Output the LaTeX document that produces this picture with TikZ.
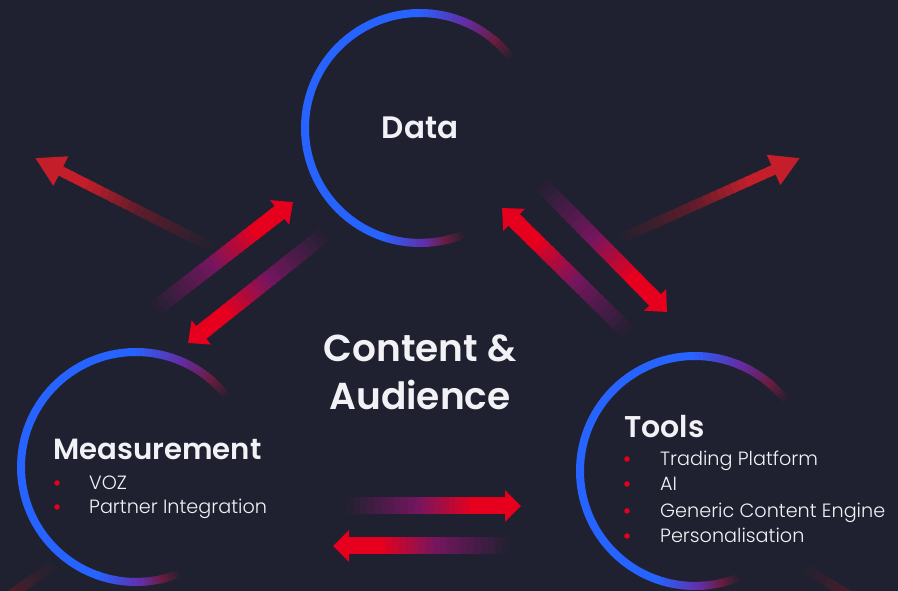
\documentclass[tikz,border=0pt]{standalone}
\usepackage{fontspec}
\setmainfont{Poppins}
\newfontfamily\headfont{Poppins SemiBold}
\newfontfamily\listfont{Poppins Light}
\usetikzlibrary{calc,arrows.meta}
\definecolor{bgnavy}{RGB}{31,33,48}
\definecolor{cblue}{RGB}{38,99,255}
\definecolor{ringred}{RGB}{105,28,62}
\definecolor{ringviolet}{RGB}{100,45,165}
\definecolor{inmid}{RGB}{115,22,95}
\definecolor{inend}{RGB}{230,0,30}
\definecolor{outmid}{RGB}{95,28,42}
\definecolor{outend}{RGB}{196,30,42}
\definecolor{txtwhite}{RGB}{242,242,246}

% shaded arrow: from, to, shaft width, head length, head width, colour prefix
\newcommand{\fadearrow}[6]{%
  \foreach \i in {0,...,23}{%
    \pgfmathtruncatemacro\pa{min(100,\i*100/11)}%
    \pgfmathtruncatemacro\pb{max(0,min(100,(\i-11)*100/8))}%
    \pgfmathsetmacro\fa{\i*0.9/24}%
    \pgfmathsetmacro\fb{(\i+1.6)*0.9/24}%
    \colorlet{segmix}{#6mid!\pa!bgnavy}%
    \colorlet{segcol}{#6end!\pb!segmix}%
    \draw[line width=#3,segcol] ($(#1)!\fa!(#2)$) -- ($(#1)!\fb!(#2)$);
  }
  \draw[line width=#3,#6end,-{Triangle[length=#4,width=#5]}] ($(#1)!0.85!(#2)$) -- (#2);
}

\begin{document}
\begin{tikzpicture}[x=1pt,y=1pt,
  ring/.style={line width=8pt},
  title/.style={text=txtwhite,font=\headfont\fontsize{30}{36}\selectfont,inner sep=0pt},
  item/.style={text=txtwhite,font=\listfont\fontsize{19.2}{24}\selectfont,inner sep=0pt,anchor=base west},
  dot/.style={circle,fill=inend,inner sep=0pt,minimum size=5.5pt}]

% Background
\clip (0,0) rectangle (898,591);
\fill[bgnavy] (0,0) rectangle (898,591);

% Circle centres
\coordinate (data) at (420,463);
\coordinate (meas) at (136,124);
\coordinate (tools) at (695,120);

% Rings
\foreach \c in {data,meas,tools}{
  \foreach \a [evaluate=\a as \p using int((\a-36)*100/12)] in {36,38,...,48}
    \draw[ring,ringred!\p!bgnavy] (\c) ++(\a:115) arc[start angle=\a,delta angle=2.5,radius=115];
  \foreach \a [evaluate=\a as \p using int((\a-48)*100/18)] in {48,50,...,66}
    \draw[ring,ringviolet!\p!ringred] (\c) ++(\a:115) arc[start angle=\a,delta angle=2.5,radius=115];
  \foreach \a [evaluate=\a as \p using int((\a-66)*100/24)] in {66,68,...,90}
    \draw[ring,cblue!\p!ringviolet] (\c) ++(\a:115) arc[start angle=\a,delta angle=2.5,radius=115];
  \draw[ring,cblue] (\c) ++(91:115) arc[start angle=91,end angle=251,radius=115];
  \foreach \a [evaluate=\a as \p using int((\a-250)*100/22)] in {250,252,...,272}
    \draw[ring,ringviolet!\p!cblue] (\c) ++(\a:115) arc[start angle=\a,delta angle=2.5,radius=115];
  \foreach \a [evaluate=\a as \p using int((\a-272)*10)] in {272,274,...,282}
    \draw[ring,ringred!\p!ringviolet] (\c) ++(\a:115) arc[start angle=\a,delta angle=2.5,radius=115];
  \foreach \a [evaluate=\a as \p using int((\a-282)*100/10)] in {282,284,...,292}
    \draw[ring,bgnavy!\p!ringred] (\c) ++(\a:115) arc[start angle=\a,delta angle=2.5,radius=115];
}

% Outward arrows
\coordinate (o1s) at (217,341); \coordinate (o1e) at (35,433);
\coordinate (o2s) at (613,349); \coordinate (o2e) at (800,433);
\coordinate (o3s) at (58,29);   \coordinate (o3e) at (-98,-79);
\coordinate (o4s) at (800,26);  \coordinate (o4e) at (975,-84);
\fadearrow{o1s}{o1e}{10pt}{29pt}{31pt}{out}
\fadearrow{o2s}{o2e}{10pt}{29pt}{31pt}{out}
\fadearrow{o3s}{o3e}{10pt}{29pt}{31pt}{out}
\fadearrow{o4s}{o4e}{10pt}{29pt}{31pt}{out}

% Arrows between the circles
\coordinate (a1s) at (150,278); \coordinate (a1e) at (293,389);
\coordinate (a2s) at (330,361); \coordinate (a2e) at (188,248);
\coordinate (a3s) at (633,254); \coordinate (a3e) at (502,383);
\coordinate (a4s) at (537,411); \coordinate (a4e) at (667,279);
\coordinate (a5s) at (340,85);  \coordinate (a5e) at (521,85);
\coordinate (a6s) at (515,45);  \coordinate (a6e) at (333,45);
\fadearrow{a1s}{a1e}{16pt}{17pt}{30pt}{in}
\fadearrow{a2s}{a2e}{16pt}{17pt}{30pt}{in}
\fadearrow{a3s}{a3e}{16pt}{17pt}{30pt}{in}
\fadearrow{a4s}{a4e}{16pt}{17pt}{30pt}{in}
\fadearrow{a5s}{a5e}{17pt}{16pt}{31pt}{in}
\fadearrow{a6s}{a6e}{17pt}{16pt}{31pt}{in}

% Labels
\node[title,font=\headfont\fontsize{31}{36}\selectfont] (datalbl) at (data) {Data};
\node[title,font=\headfont\fontsize{37.5}{48}\selectfont,align=center] (hub) at (420,219) {Content \&\\Audience};

\node[title,font=\headfont\fontsize{29.2}{36}\selectfont,anchor=base west] (measlbl) at (53,131) {Measurement};
\node[dot] (m1dot) at (57,108) {};
\node[item] (m1) at (89,101) {VOZ};
\node[dot] (m2dot) at (57,84) {};
\node[item] (m2) at (89,77) {Partner Integration};

\node[title,anchor=base west] (toolslbl) at (624,153) {Tools};
\node[dot] (t1dot) at (627,132) {};
\node[item] (t1) at (660,125) {Trading Platform};
\node[dot] (t2dot) at (627,107) {};
\node[item] (t2) at (660,100) {AI};
\node[dot] (t3dot) at (627,80) {};
\node[item] (t3) at (660,73) {Generic Content Engine};
\node[dot] (t4dot) at (627,55) {};
\node[item] (t4) at (660,48) {Personalisation};
\end{tikzpicture}
\end{document}
